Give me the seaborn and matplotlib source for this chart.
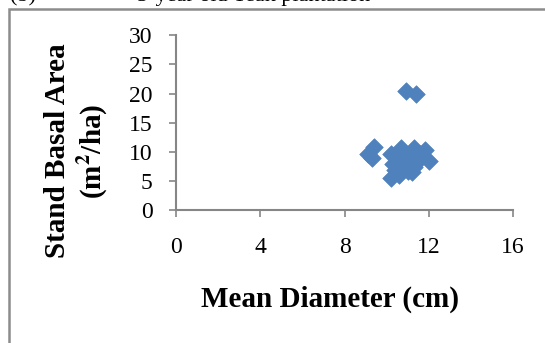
import matplotlib
matplotlib.use("Agg")
import matplotlib.pyplot as plt
import seaborn as sns
import pandas as pd
from matplotlib.patches import Rectangle

# Data
mean_diameter = [10.9, 11.4, 9.1, 9.4, 9.3, 10.2, 10.7, 11.3, 11.8, 12.0,
                 10.5, 11.0, 11.5, 10.8, 11.3, 10.4, 11.0, 10.2, 10.6, 11.2,
                 10.3, 11.6]
basal_area = [20.4, 20.0, 9.6, 10.8, 9.0, 9.7, 10.6, 10.6, 10.3, 8.4,
              8.8, 9.0, 8.5, 7.8, 7.5, 7.0, 6.8, 5.5, 6.0, 6.5,
              8.0, 9.6]
x_ticks = [0, 4, 8, 12, 16]
y_ticks = [0, 5, 10, 15, 20, 25, 30]

df = pd.DataFrame({"Mean Diameter (cm)": mean_diameter,
                   "Stand Basal Area": basal_area})

sns.set_theme(style="white")
plt.rcParams['font.family'] = ['Liberation Serif', 'DejaVu Serif']
plt.rcParams['mathtext.fontset'] = 'stix'

W, H = 545, 343
fig = plt.figure(figsize=(W / 100, H / 100), dpi=100)
fig.patch.set_facecolor("white")

ax = fig.add_axes([176 / W, 1 - 210.5 / H, (513 - 176) / W, (210.5 - 35) / H])
ax.set_facecolor("none")

sns.scatterplot(data=df, x="Mean Diameter (cm)", y="Stand Basal Area", ax=ax,
                marker="D", s=80, color="#4F81BD", edgecolor="#4F81BD",
                linewidth=0.5, zorder=3, clip_on=False)

ax.set_xlim(0, 16)
ax.set_ylim(0, 30)
ax.set_xticks(x_ticks)
ax.set_yticks(y_ticks)
ax.set_xticklabels([str(t) for t in x_ticks])
ax.set_yticklabels([str(t) for t in y_ticks])

gray = "#868686"
for side in ["top", "right"]:
    ax.spines[side].set_visible(False)
for side in ["left", "bottom"]:
    ax.spines[side].set_color(gray)
    ax.spines[side].set_linewidth(1.5)
ax.tick_params(axis="both", which="major", direction="out", length=5,
               width=1.2, color=gray, labelsize=17, labelcolor="black",
               bottom=True, left=True)
ax.tick_params(axis="x", pad=14)
ax.tick_params(axis="y", pad=12)

ax.set_xlabel("")
ax.set_ylabel("")
fig.text(330 / W, 1 - 299 / H, "Mean Diameter (cm)", ha="center", va="center",
         fontsize=21, fontweight="bold", color="black")
fig.text(77 / W, 1 - 151 / H, "Stand Basal Area\n(m$^\\mathbf{2}$/ha)", ha="center",
         va="center", rotation=90, fontsize=21, fontweight="bold",
         color="black", linespacing=1.2, multialignment="center")

# Outer frame (partly outside the picture)
fig.patches.append(Rectangle((8.5 / W, -0.2), 1.2, 1 - 8.5 / H + 0.2,
                             transform=fig.transFigure, fill=False,
                             edgecolor="#8c8c8c", linewidth=1.8))

# Caption above the frame, mostly cut off by the top edge as in the reference
fig.text(10 / W, 1 - 1 / H, "(b)", ha="left", va="baseline", fontsize=16,
         color="black")
fig.text(137 / W, 1 - 1 / H, "5-year old Teak plantation", ha="left",
         va="baseline", fontsize=16, color="black")

fig.savefig("out.png", dpi=100, facecolor="white")
